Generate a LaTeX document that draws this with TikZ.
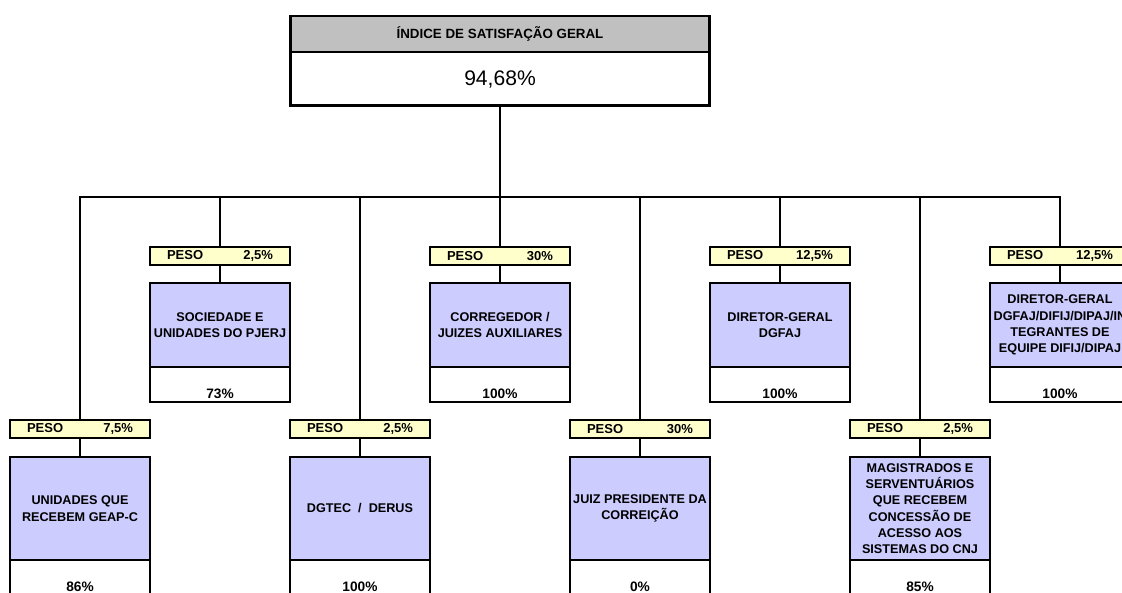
\documentclass[tikz,border=0pt]{standalone}
\usepackage{fontspec}
\setmainfont{Liberation Sans}
\usetikzlibrary{positioning}
\definecolor{lilac}{HTML}{CCCCFF}
\definecolor{cream}{HTML}{FFFFCC}
\definecolor{band}{HTML}{C0C0C0}
\newcommand\pesobar[1]{\makebox[2.12cm]{PESO\hfill #1}}
\begin{document}
\begin{tikzpicture}[x=0.02cm,y=-0.02cm,font=\fontsize{7.2}{9.3}\selectfont\bfseries,
 title/.style={draw,line width=1.7pt,fill=band,minimum width=8.4cm,minimum height=.72cm,inner sep=0pt,outer sep=0pt,font=\fontsize{7.6}{9}\selectfont\bfseries},
 total/.style={draw,line width=1.7pt,fill=white,minimum width=8.4cm,minimum height=1.08cm,inner sep=0pt,outer sep=0pt,font=\fontsize{12}{14}\selectfont},
 weight/.style={draw,line width=1.1pt,fill=cream,minimum width=2.8cm,minimum height=.36cm,inner sep=0pt,outer sep=0pt,font=\fontsize{7.4}{9}\selectfont\bfseries},
 unit/.style={draw,line width=1.1pt,fill=lilac,minimum width=2.8cm,inner sep=0pt,outer sep=0pt,align=center},
 upper/.style={unit,minimum height=1.68cm},
 lower/.style={unit,minimum height=2.06cm},
 score/.style={draw,line width=1.1pt,fill=white,minimum width=2.8cm,minimum height=.7cm,inner sep=0pt,outer sep=0pt,text height=.58cm,text depth=.02cm,font=\fontsize{7.8}{9}\selectfont\bfseries},
 link/.style={line width=1pt}]
\useasboundingbox (0,0) rectangle (1122,592);
\clip (0,0) rectangle (1122,592);
% overall index
\node[title] (head) at (500,34) {ÍNDICE DE SATISFAÇÃO GERAL};
\node[total,below=0pt of head] (index) {94,68\%};
% upper row
\node[weight] (w-soc) at (220,256) {\pesobar{2,5\%}};
\node[upper] (u-soc) at (220,325) {SOCIEDADE E\\UNIDADES DO PJERJ};
\node[score,below=0pt of u-soc] (s-soc) {73\%};
\node[weight] (w-corr) at (500,256) {\pesobar{30\%}};
\node[upper] (u-corr) at (500,325) {CORREGEDOR /\\JUIZES AUXILIARES};
\node[score,below=0pt of u-corr] (s-corr) {100\%};
\node[weight] (w-dir) at (780,256) {\pesobar{12,5\%}};
\node[upper] (u-dir) at (780,325) {DIRETOR-GERAL\\DGFAJ};
\node[score,below=0pt of u-dir] (s-dir) {100\%};
\node[weight] (w-equipe) at (1060,256) {\pesobar{12,5\%}};
\node[upper] (u-equipe) at (1060,325) {DIRETOR-GERAL\\DGFAJ/DIFIJ/DIPAJ/IN\\TEGRANTES DE\\EQUIPE DIFIJ/DIPAJ};
\node[score,below=0pt of u-equipe] (s-equipe) {100\%};
% lower row
\node[weight] (w-geap) at (80,429) {\pesobar{7,5\%}};
\node[lower] (u-geap) at (80,508.5) {UNIDADES QUE\\RECEBEM GEAP-C};
\node[score,below=0pt of u-geap] (s-geap) {86\%};
\node[weight] (w-dgtec) at (360,429) {\pesobar{2,5\%}};
\node[lower] (u-dgtec) at (360,508.5) {DGTEC\ \ /\ \ DERUS};
\node[score,below=0pt of u-dgtec] (s-dgtec) {100\%};
\node[weight] (w-juiz) at (640,429) {\pesobar{30\%}};
\node[lower] (u-juiz) at (640,508.5) {JUIZ PRESIDENTE DA\\CORREIÇÃO};
\node[score,below=0pt of u-juiz] (s-juiz) {0\%};
\node[weight] (w-mag) at (920,429) {\pesobar{2,5\%}};
\node[lower] (u-mag) at (920,508.5) {MAGISTRADOS E\\SERVENTUÁRIOS\\QUE RECEBEM\\CONCESSÃO DE\\ACESSO AOS\\SISTEMAS DO CNJ};
\node[score,below=0pt of u-mag] (s-mag) {85\%};
% tree lines
\coordinate (bus) at (500,197);
\draw[link] (index) -- (w-corr);
\draw[link] (w-geap.north) |- (w-equipe.north |- bus) -- (w-equipe.north);
\draw[link] (w-soc) -- (w-soc |- bus);
\draw[link] (w-dgtec) -- (w-dgtec |- bus);
\draw[link] (w-dir) -- (w-dir |- bus);
\draw[link] (w-juiz) -- (w-juiz |- bus);
\draw[link] (w-mag) -- (w-mag |- bus);
\draw[link] (w-soc) -- (u-soc);
\draw[link] (w-corr) -- (u-corr);
\draw[link] (w-dir) -- (u-dir);
\draw[link] (w-equipe) -- (u-equipe);
\draw[link] (w-geap) -- (u-geap);
\draw[link] (w-dgtec) -- (u-dgtec);
\draw[link] (w-juiz) -- (u-juiz);
\draw[link] (w-mag) -- (u-mag);
\end{tikzpicture}
\end{document}
